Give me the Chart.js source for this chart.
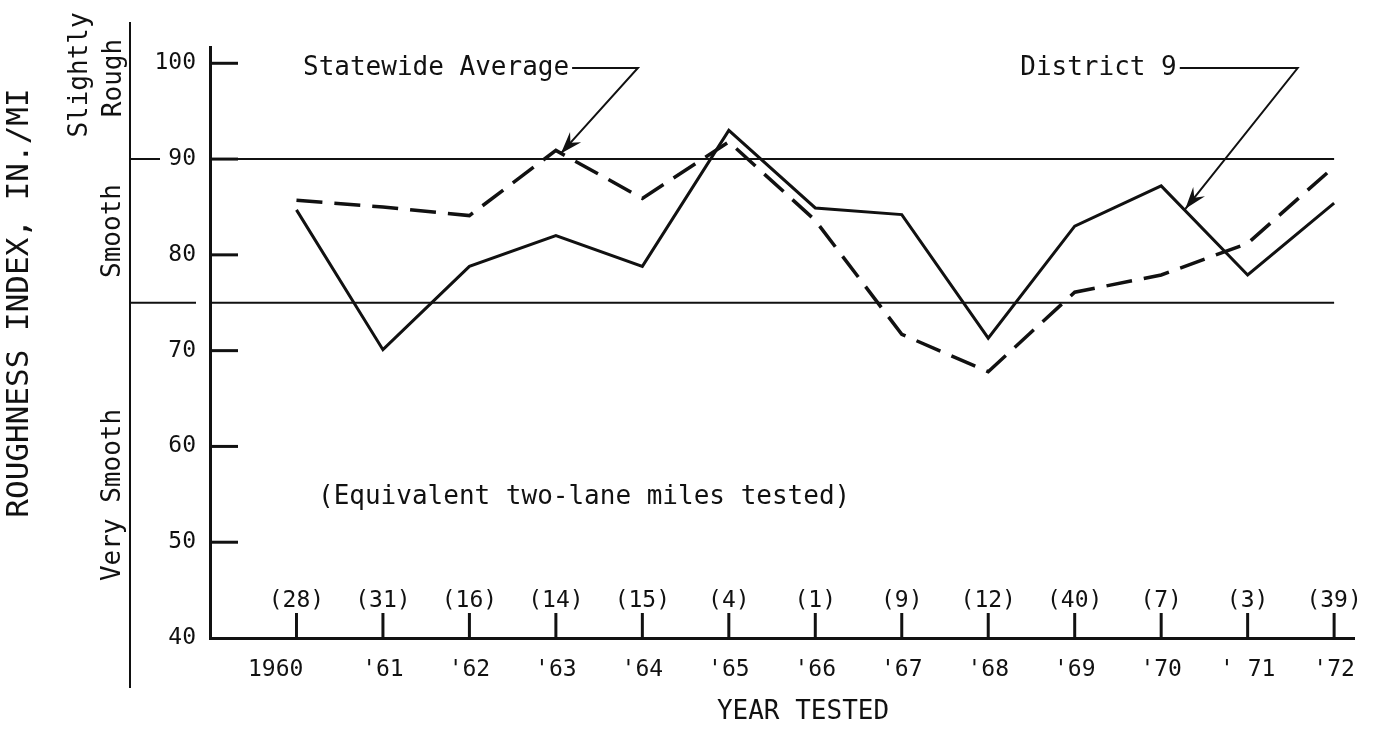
<!DOCTYPE html>
<html>
<head>
<meta charset="utf-8">
<script src="https://cdn.jsdelivr.net/npm/chart.js@4"></script>
<style>
  html, body { margin: 0; padding: 0; background: #fff; }
  #wrap { width: 1374px; height: 747px; }
</style>
</head>
<body>
<div id="wrap"><canvas id="roughness-chart"></canvas></div>
<script>
// values
const years = [1960, 1961, 1962, 1963, 1964, 1965, 1966, 1967, 1968, 1969, 1970, 1971, 1972];
const yearLabels = ['1960', "'61", "'62", "'63", "'64", "'65", "'66", "'67", "'68", "'69", "'70", "' 71", "'72"];
const milesTested = [28, 31, 16, 14, 15, 4, 1, 9, 12, 40, 7, 3, 39];
const district9 = [84.7, 70.1, 78.8, 82.0, 78.8, 93.0, 84.9, 84.2, 71.3, 83.0, 87.2, 77.9, 85.4];
const statewideAverage = [85.7, 85.0, 84.1, 90.9, 85.9, 91.8, 83.6, 71.7, 67.8, 76.1, 77.9, 81.2, 89.2];
const yTicks = [40, 50, 60, 70, 80, 90, 100];
const bandLimits = [90, 75];
const bandNames = [['Slightly', 'Rough'], ['Smooth'], ['Very Smooth']];

const ink = '#111';
const mono = 'DejaVu Sans Mono';

function drawArrow(ctx, points) {
    ctx.beginPath();
    ctx.moveTo(points[0][0], points[0][1]);
    for (let i = 1; i < points.length; i++) ctx.lineTo(points[i][0], points[i][1]);
    ctx.stroke();
    // filled head at the last point
    const [tx, ty] = points[points.length - 1];
    const [fx, fy] = points[points.length - 2];
    const ang = Math.atan2(ty - fy, tx - fx);
    const len = 22, half = 7.5;
    ctx.beginPath();
    ctx.moveTo(tx, ty);
    ctx.lineTo(tx - len * Math.cos(ang) + half * Math.sin(ang), ty - len * Math.sin(ang) - half * Math.cos(ang));
    ctx.lineTo(tx - len * 0.65 * Math.cos(ang), ty - len * 0.65 * Math.sin(ang));
    ctx.lineTo(tx - len * Math.cos(ang) - half * Math.sin(ang), ty - len * Math.sin(ang) + half * Math.cos(ang));
    ctx.closePath();
    ctx.fill();
}

const decorations = {
    id: 'decorations',
    beforeDatasetsDraw(chart) {
        const {ctx, chartArea, scales: {x, y}} = chart;
        const bracketX = chartArea.left - 80;
        const lastX = x.getPixelForValue(years[years.length - 1]);
        ctx.save();
        ctx.strokeStyle = ink;
        ctx.lineWidth = 2;
        // roughness class limits
        bandLimits.forEach(v => {
            const py = y.getPixelForValue(v);
            const leftEnd = yTicks.includes(v) ? bracketX + 30 : chartArea.left - 14;
            ctx.beginPath();
            ctx.moveTo(bracketX, py);
            ctx.lineTo(leftEnd, py);
            ctx.moveTo(chartArea.left, py);
            ctx.lineTo(lastX, py);
            ctx.stroke();
        });
        // bracket line for the class names
        ctx.beginPath();
        ctx.moveTo(bracketX, chartArea.top - 25);
        ctx.lineTo(bracketX, chartArea.bottom + 50);
        ctx.stroke();
        ctx.restore();
    },
    afterDraw(chart) {
        const {ctx, chartArea, scales: {x, y}} = chart;
        const bracketX = chartArea.left - 80;
        ctx.save();
        ctx.strokeStyle = ink;
        ctx.fillStyle = ink;

        // inward tick marks
        ctx.lineWidth = 3;
        yTicks.forEach(v => {
            if (v <= y.min) return;
            const py = y.getPixelForValue(v);
            ctx.beginPath();
            ctx.moveTo(chartArea.left, py);
            ctx.lineTo(chartArea.left + 28, py);
            ctx.stroke();
        });
        years.forEach(yr => {
            const px = x.getPixelForValue(yr);
            ctx.beginPath();
            ctx.moveTo(px, chartArea.bottom);
            ctx.lineTo(px, chartArea.bottom - 25);
            ctx.stroke();
        });

        // miles tested above each year
        ctx.font = '23px "' + mono + '"';
        ctx.textAlign = 'center';
        ctx.textBaseline = 'middle';
        years.forEach((yr, i) => {
            ctx.fillText('(' + milesTested[i] + ')', x.getPixelForValue(yr), chartArea.bottom - 37);
        });

        ctx.font = '26px "' + mono + '"';
        ctx.textAlign = 'left';
        ctx.fillText('(Equivalent two-lane miles tested)', chartArea.left + 108, chartArea.bottom - 141);

        ctx.textAlign = 'center';
        ctx.fillText('YEAR TESTED', chartArea.left + 593, chartArea.bottom + 74);

        // class names, rotated
        const rotText = (txt, cx, cy) => {
            ctx.save();
            ctx.translate(cx, cy);
            ctx.rotate(-Math.PI / 2);
            ctx.fillText(txt, 0, 0);
            ctx.restore();
        };
        rotText(bandNames[0][0], bracketX - 50, 75);
        rotText(bandNames[0][1], bracketX - 16, 78);
        rotText(bandNames[1][0], bracketX - 17, 231);
        rotText(bandNames[2][0], bracketX - 17, 495);

        ctx.font = '31px "' + mono + '"';
        rotText('ROUGHNESS INDEX, IN./MI', bracketX - 110, 303);

        // series call-outs
        ctx.font = '26px "' + mono + '"';
        ctx.textAlign = 'left';
        ctx.textBaseline = 'alphabetic';
        ctx.lineWidth = 2;

        const x63 = x.getPixelForValue(1963);
        const swText = 'Statewide Average';
        const swLeft = chartArea.left + 93;
        ctx.fillText(swText, swLeft, 75);
        const swEnd = swLeft + ctx.measureText(swText).width + 3;
        drawArrow(ctx, [[swEnd, 68], [x63 + 82, 68], [x63 + 5, y.getPixelForValue(statewideAverage[3]) + 3]]);

        const d9Text = 'District 9';
        const d9Left = x.getPixelForValue(1968) + 32;
        ctx.fillText(d9Text, d9Left, 75);
        const d9End = d9Left + ctx.measureText(d9Text).width + 3;
        const t = 0.28;
        const ax = x.getPixelForValue(1970 + t);
        const ay = y.getPixelForValue(district9[10] + (district9[11] - district9[10]) * t) - 2;
        drawArrow(ctx, [[d9End, 68], [x.getPixelForValue(1971) + 50, 68], [ax, ay]]);

        ctx.restore();
    }
};

const ctx = document.getElementById('roughness-chart').getContext('2d');
const roughnessChart = new Chart(ctx, {
    type: 'line',
    data: {
        datasets: [
            {
                label: 'District 9',
                data: years.map((yr, i) => ({x: yr, y: district9[i]})),
                borderColor: ink,
                borderWidth: 3,
                pointRadius: 0,
                tension: 0,
                fill: false
            },
            {
                label: 'Statewide Average',
                data: years.map((yr, i) => ({x: yr, y: statewideAverage[i]})),
                borderColor: ink,
                borderWidth: 3.5,
                borderDash: [26, 12],
                pointRadius: 0,
                tension: 0,
                fill: false
            }
        ]
    },
    options: {
        responsive: true,
        maintainAspectRatio: false,
        animation: false,
        devicePixelRatio: 1,
        layout: {
            padding: {top: 47, right: 20, bottom: 0, left: 0}
        },
        plugins: {
            legend: {display: false},
            tooltip: {enabled: false}
        },
        scales: {
            x: {
                type: 'linear',
                min: 1959,
                max: 1972.23,
                afterBuildTicks: scale => { scale.ticks = years.map(v => ({value: v})); },
                afterFit: scale => { scale.height = 109; },
                grid: {display: false},
                border: {display: true, color: ink, width: 3},
                ticks: {
                    color: ink,
                    padding: 10,
                    maxRotation: 0,
                    autoSkip: false,
                    font: {family: mono, size: 23},
                    callback: function(value, index) {
                        // the first year label sits left of its tick in the original
                        return index === 0 ? yearLabels[index] + '   ' : yearLabels[index];
                    }
                }
            },
            y: {
                type: 'linear',
                min: 40,
                max: 101.7,
                afterBuildTicks: scale => { scale.ticks = yTicks.map(v => ({value: v})); },
                afterFit: scale => { scale.width = 210; },
                grid: {display: false},
                border: {display: true, color: ink, width: 3},
                ticks: {
                    color: ink,
                    padding: 6,
                    font: {family: mono, size: 23}
                }
            }
        }
    },
    plugins: [decorations]
});
</script>
</body>
</html>
